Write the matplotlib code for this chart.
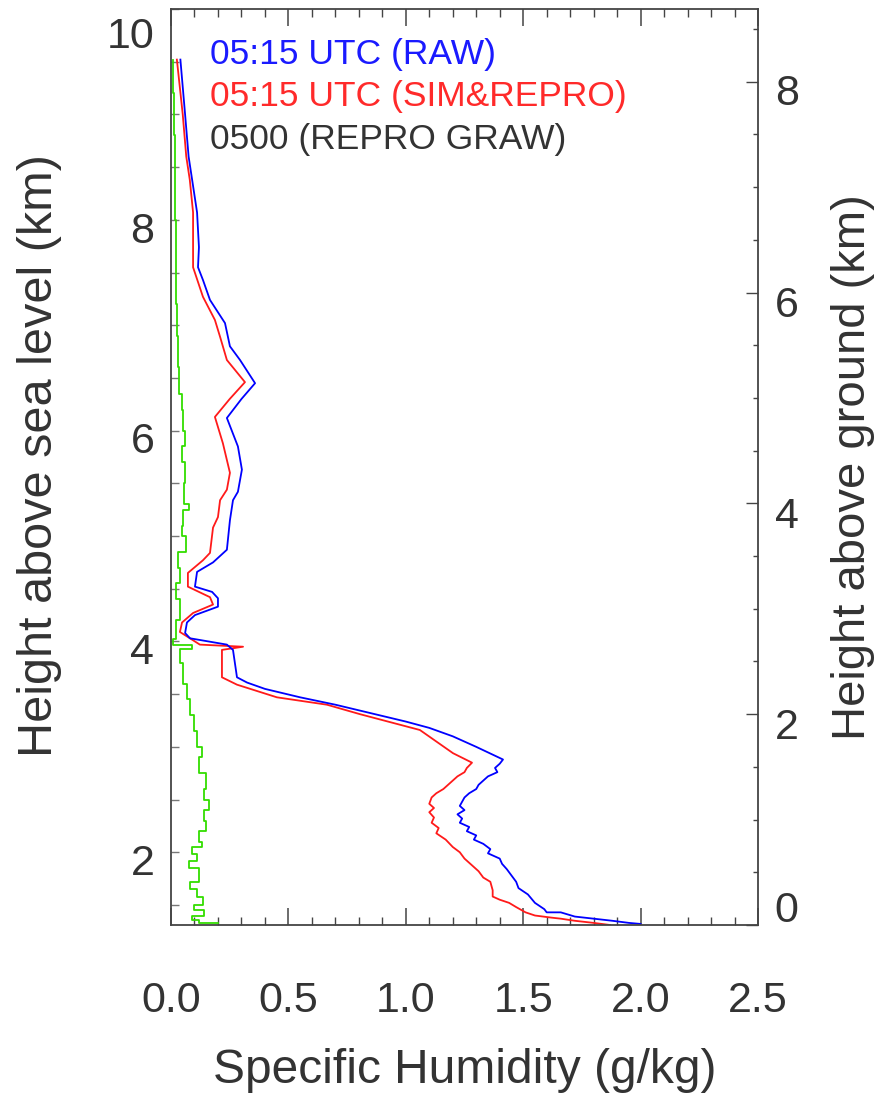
import matplotlib
matplotlib.use("Agg")
import matplotlib.pyplot as plt
import matplotlib.transforms as mtransforms
from matplotlib.ticker import MultipleLocator

plt.rcParams['font.family'] = ['Liberation Sans', 'DejaVu Sans']

# ---- data ----
# 05:15 UTC (RAW)  -- specific humidity (g/kg) vs height ASL (km)
raw_q = [0.04, 0.06, 0.075, 0.09, 0.111, 0.119, 0.115, 0.136, 0.166, 0.23, 0.251, 0.294, 0.358,
         0.30, 0.238, 0.285, 0.302, 0.285, 0.264, 0.251, 0.238, 0.179, 0.111, 0.102, 0.175, 0.20,
         0.20, 0.102, 0.068, 0.06, 0.081, 0.238, 0.264, 0.281, 0.324, 0.40, 0.55, 0.70, 0.85,
         1.0, 1.10, 1.20, 1.30, 1.414, 1.40, 1.38, 1.39, 1.35, 1.33, 1.31, 1.30, 1.27, 1.25,
         1.24, 1.23, 1.25, 1.22, 1.24, 1.23, 1.27, 1.26, 1.30, 1.29, 1.33, 1.36, 1.35, 1.40,
         1.41, 1.43, 1.45, 1.47, 1.48, 1.52, 1.55, 1.59, 1.60, 1.66, 1.72, 1.80, 1.88, 1.95, 2.0]
raw_z = [9.52, 9.0, 8.6, 8.38, 8.07, 7.74, 7.55, 7.43, 7.24, 7.02, 6.80, 6.67, 6.45,
         6.30, 6.12, 5.85, 5.63, 5.42, 5.34, 5.15, 4.87, 4.75, 4.66, 4.52, 4.47, 4.41,
         4.33, 4.25, 4.18, 4.08, 4.03, 3.97, 3.92, 3.66, 3.61, 3.55, 3.47, 3.40, 3.32,
         3.24, 3.18, 3.10, 3.0, 2.88, 2.84, 2.80, 2.76, 2.72, 2.68, 2.64, 2.60, 2.56, 2.52,
         2.48, 2.44, 2.40, 2.36, 2.32, 2.28, 2.24, 2.20, 2.16, 2.12, 2.08, 2.03, 1.99, 1.94,
         1.89, 1.84, 1.78, 1.72, 1.66, 1.60, 1.52, 1.46, 1.43, 1.43, 1.39, 1.37, 1.35, 1.33, 1.32]

# 05:15 UTC (SIM&REPRO)
sim_q = [0.025, 0.05, 0.065, 0.08, 0.094, 0.094, 0.136, 0.187, 0.209, 0.238, 0.315, 0.25,
         0.187, 0.221, 0.251, 0.238, 0.209, 0.20, 0.179, 0.166, 0.136, 0.072, 0.072, 0.166,
         0.179, 0.094, 0.047, 0.038, 0.123, 0.307, 0.217, 0.217, 0.281, 0.451, 0.664, 0.805,
         1.06, 1.201, 1.282, 1.26, 1.25, 1.22, 1.20, 1.18, 1.16, 1.13, 1.11, 1.10, 1.12, 1.10,
         1.12, 1.11, 1.14, 1.13, 1.17, 1.20, 1.23, 1.25, 1.28, 1.31, 1.33, 1.36, 1.37, 1.37,
         1.40, 1.44, 1.47, 1.51, 1.55, 1.62, 1.66, 1.72, 1.80, 1.87]
sim_z = [9.52, 9.0, 8.6, 8.38, 8.07, 7.55, 7.27, 7.05, 6.89, 6.67, 6.46, 6.30,
         6.13, 5.88, 5.60, 5.44, 5.34, 5.18, 5.08, 4.84, 4.77, 4.65, 4.52, 4.42,
         4.35, 4.27, 4.18, 4.09, 3.97, 3.95, 3.92, 3.66, 3.59, 3.47, 3.40, 3.31,
         3.16, 2.94, 2.85, 2.80, 2.76, 2.72, 2.68, 2.64, 2.60, 2.56, 2.52, 2.46, 2.42, 2.38,
         2.33, 2.28, 2.23, 2.18, 2.12, 2.05, 2.00, 1.94, 1.88, 1.82, 1.76, 1.72, 1.64, 1.58,
         1.55, 1.52, 1.48, 1.43, 1.40, 1.38, 1.37, 1.35, 1.33, 1.31]

# 0500 (REPRO GRAW)
graw_q = [0.010, 0.012, 0.015, 0.018, 0.02, 0.022, 0.025, 0.03, 0.035, 0.045, 0.05, 0.06,
          0.045, 0.06, 0.055, 0.075, 0.05, 0.045, 0.065, 0.03, 0.04, 0.02, 0.04, 0.02, 0.01,
          0.09, 0.04, 0.05, 0.07, 0.08, 0.10, 0.11, 0.13, 0.12, 0.15, 0.14, 0.16, 0.14,
          0.15, 0.12, 0.13, 0.09, 0.11, 0.075, 0.12, 0.08, 0.11, 0.135, 0.10, 0.14, 0.09,
          0.12, 0.2]
graw_z = [9.52, 9.2, 8.8, 8.4, 8.0, 7.6, 7.2, 6.9, 6.6, 6.35, 6.2, 6.0,
          5.85, 5.7, 5.5, 5.3, 5.25, 5.1, 5.0, 4.85, 4.7, 4.55, 4.4, 4.2, 4.02,
          3.97, 3.93, 3.8, 3.6, 3.45, 3.3, 3.15, 3.0, 2.9, 2.75, 2.6, 2.5, 2.4,
          2.3, 2.2, 2.1, 2.05, 1.98, 1.92, 1.85, 1.72, 1.65, 1.58, 1.5, 1.45, 1.4,
          1.36, 1.33]

labels = ['05:15 UTC (RAW)', '05:15 UTC (SIM&REPRO)', '0500 (REPRO GRAW)']
label_colors = ['#1a1aff', '#ff2a2a', '#333333']
line_colors = ['#0000ff', '#ff1a1a', '#33dd00']

ground_km = 1.31
xticks = [0.0, 0.5, 1.0, 1.5, 2.0, 2.5]
yticks_left = [2, 4, 6, 8, 10]
yticks_right = [0, 2, 4, 6, 8]

TXT = '#333333'

fig = plt.figure(figsize=(8.77, 10.94), dpi=100)
ax = fig.add_axes([171/877, 1-925/1094, 587/877, 916/1094])

ax.plot(graw_q, graw_z, color=line_colors[2], lw=1.3, drawstyle='steps-pre')
ax.plot(sim_q, sim_z, color=line_colors[1], lw=1.3)
ax.plot(raw_q, raw_z, color=line_colors[0], lw=1.3)

ax.set_xlim(0, 2.5)
ax.set_ylim(ground_km, 10.0)

for sp in ax.spines.values():
    sp.set_color('#444444')
    sp.set_linewidth(1.3)

ax.set_xticks(xticks)
ax.set_xticklabels([f'{v:.1f}' for v in xticks])
ax.xaxis.set_minor_locator(MultipleLocator(0.1))
ax.tick_params(axis='x', which='major', direction='in', length=12, width=1.1,
               top=True, bottom=True, pad=40, labelsize=31, colors='#444444', labelcolor=TXT)
ax.tick_params(axis='x', which='minor', direction='in', length=5.5, width=1.0,
               top=True, bottom=True, colors='#444444')

ax.set_yticks(yticks_left)
ax.set_yticklabels([str(v) for v in yticks_left])
ax.yaxis.set_minor_locator(MultipleLocator(0.5))
ax.tick_params(axis='y', which='both', direction='in', length=5.5, width=1.0,
               right=False, left=True, pad=12, labelsize=31, colors='#777777', labelcolor=TXT)

ax.set_xlabel('Specific Humidity (g/kg)', fontsize=34.5, color=TXT, labelpad=20)
ax.set_ylabel('Height above sea level (km)', fontsize=35, color=TXT)
ax.yaxis.set_label_coords(-0.186, 0.513)

ax2 = ax.twinx()
ax2.set_ylim(0, 10.0 - ground_km)
ax2.set_yticks(yticks_right)
ax2.set_yticklabels([str(v) for v in yticks_right])
ax2.yaxis.set_minor_locator(MultipleLocator(0.5))
ax2.tick_params(axis='y', which='major', direction='in', length=8.5, width=1.0,
                pad=12, labelsize=31, colors='#444444', labelcolor=TXT)
ax2.tick_params(axis='y', which='minor', direction='in', length=3.6, width=1.0, colors='#444444')
ax2.set_ylabel('Height above ground (km)', fontsize=34, color=TXT, labelpad=23)
for sp in ax2.spines.values():
    sp.set_visible(False)

# shift tick labels slightly down as in reference
def shift(lbls, dy_list):
    for lb, dy in zip(lbls, dy_list):
        off = mtransforms.ScaledTranslation(0, -dy/100.0, fig.dpi_scale_trans)
        lb.set_transform(lb.get_transform() + off)

shift(ax.get_yticklabels(), [7, 7, 7, 8, 24])
shift(ax2.get_yticklabels(), [-18, 9, 9, 9, 8])

ys = [0.950, 0.904, 0.857]
for t, c, y in zip(labels, label_colors, ys):
    ax.text(0.066, y, t, transform=ax.transAxes, color=c, fontsize=25.5, va='center', ha='left')

fig.savefig('out.png', dpi=100)
